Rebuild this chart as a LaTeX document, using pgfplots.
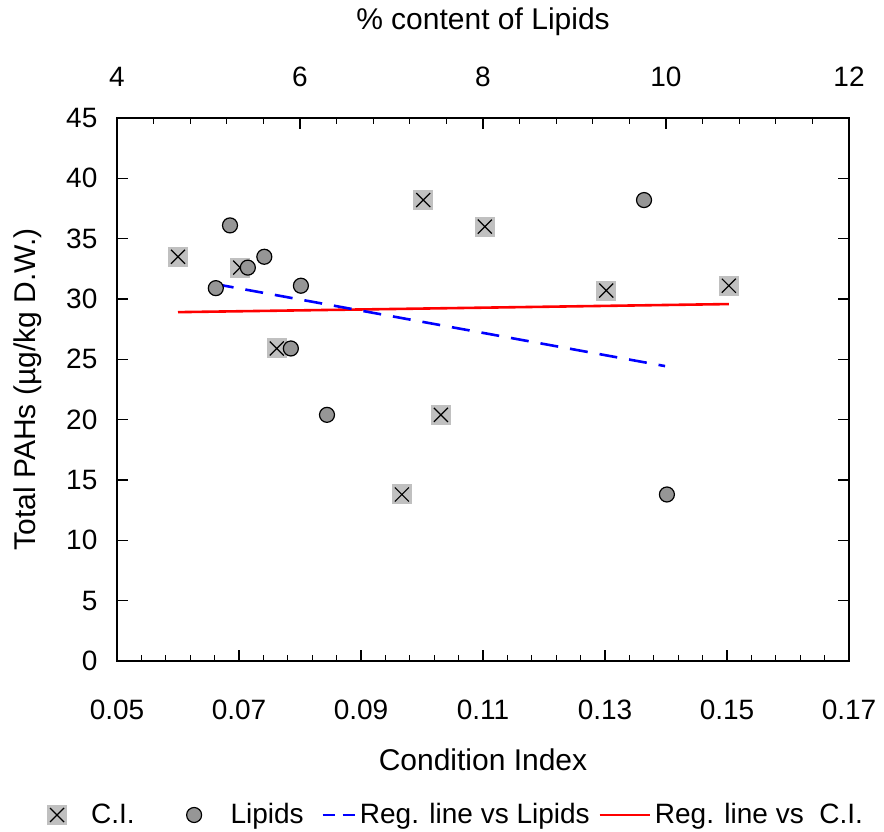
\documentclass[border=0pt]{standalone}
\usepackage{fontspec}
\setmainfont{Liberation Sans}
\usepackage{pgfplots}
\pgfplotsset{compat=1.18}

\definecolor{cifill}{RGB}{192,192,192}
\definecolor{lipfill}{RGB}{150,150,150}

% grey square with a black cross, as in the C.I. series
\pgfdeclareplotmark{sqx}{%
  \pgfpathrectangle{\pgfqpoint{-\pgfplotmarksize}{-\pgfplotmarksize}}{\pgfqpoint{2\pgfplotmarksize}{2\pgfplotmarksize}}%
  \pgfsetfillcolor{cifill}\pgfusepath{fill}%
  \pgfpathmoveto{\pgfqpoint{-.7\pgfplotmarksize}{-.7\pgfplotmarksize}}%
  \pgfpathlineto{\pgfqpoint{.7\pgfplotmarksize}{.7\pgfplotmarksize}}%
  \pgfpathmoveto{\pgfqpoint{-.7\pgfplotmarksize}{.7\pgfplotmarksize}}%
  \pgfpathlineto{\pgfqpoint{.7\pgfplotmarksize}{-.7\pgfplotmarksize}}%
  \pgfsetstrokecolor{black}\pgfusepath{stroke}}

\pgfplotsset{
  legline/.style={legend image code/.code={\draw[##1] (0bp,0bp) -- (#1,0bp);}},
  legdash/.style={legend image code/.code={%
      \draw[##1, dash pattern=on 6bp off 4bp] (0bp,0bp) -- (#1,0bp);}},
  % mark legend: invisible strip of width 20bp, mark placed #1 from its left edge
  legmark/.style={legend image code/.code={%
      \path[draw=none, fill=none] (0bp,-1bp) rectangle (20bp,1bp);
      \draw[##1] plot coordinates {(#1,0bp)};}},
  chartbase/.style={
    width=366bp, height=271.5bp, scale only axis,
    ymin=0, ymax=45,
    tick align=inside,
    major tick length=5.5bp, minor tick length=3bp,
    every tick/.style={black, line width=0.6bp},
    axis line style={line width=1bp},
    tick label style={font=\fontsize{14bp}{16bp}\selectfont},
    label style={font=\fontsize{15bp}{17bp}\selectfont},
    /pgf/number format/assume math mode=true,
  }
}

\begin{document}
\begin{tikzpicture}

\begin{axis}[chartbase,
  xmin=0.05, xmax=0.17,
  xtick={0.05,0.07,0.09,0.11,0.13,0.15,0.17},
  minor x tick num=4,
  scaled x ticks=false,
  xticklabel style={/pgf/number format/fixed, /pgf/number format/precision=2,
    /pgf/number format/fixed zerofill, yshift=-15.8bp},
  xtick pos=bottom,
  ytick={0,5,...,45},
  ytick pos=both, yticklabel pos=left,
  yticklabel style={xshift=-6.3bp},
  xlabel={Condition Index},
  xlabel style={at={(axis description cs:0.5,-0.1823)}, anchor=center},
  ylabel={Total PAHs (µg/kg D.W.)},
  ylabel style={at={(axis description cs:-0.1216,0.5)}, anchor=center},
]
\addplot[only marks, mark=sqx, mark size=5bp, mark options={line width=0.6bp}]
table {
0.0600 33.5
0.0702 32.6
0.0762 25.9
0.0967 13.8
0.1002 38.2
0.1031 20.4
0.1103 36.0
0.1302 30.7
0.1503 31.1
};
\addplot[red, line width=1.3bp] coordinates {(0.0600,28.91) (0.1503,29.58)};
\end{axis}

\begin{axis}[chartbase,
  xmin=4, xmax=12,
  xtick={4,6,8,10,12},
  minor x tick num=4,
  axis x line*=top, axis y line=none,
  x axis line style={-},
  xticklabel style={yshift=12bp},
  xlabel={\% content of Lipids},
  xlabel style={at={(axis description cs:0.5,1.1768)}, anchor=center},
  legend style={draw=none, fill=none, at={(axis description cs:0.4645,-0.2836)},
    anchor=center, legend columns=4,
    font=\fontsize{14bp}{16bp}\selectfont,
    /tikz/column 2/.style={column sep=24bp},
    /tikz/column 4/.style={column sep=6.8bp},
    /tikz/column 6/.style={column sep=2.3bp}},
  legend cell align=left,
]
\addlegendimage{only marks, mark=sqx, mark size=5bp, mark options={line width=0.6bp},
  legmark=5bp}
\addlegendentry{C.I.}
\addplot[only marks, mark=*, mark size=3.75bp,
  mark options={fill=lipfill, draw=black, line width=0.6bp}, legmark=3.75bp]
table {
5.08 30.9
5.235 36.1
5.43 32.6
5.61 33.5
5.90 25.9
6.01 31.1
6.295 20.4
9.76 38.2
10.01 13.8
};
\addlegendentry{Lipids}
\addplot[blue, line width=1.3bp, dash pattern=on 9bp off 6bp, legdash=16bp]
  coordinates {(5.08,31.23) (9.99,24.44)};
\addlegendentry{Reg. line vs Lipids}
\addlegendimage{red, line width=1.3bp, legline=25bp}
\addlegendentry{Reg. line vs\ \ C.I.}
\end{axis}

\pgfresetboundingbox
\path[use as bounding box] (-58.5bp,-85.5bp) rectangle (383.5bp,330.5bp);
\end{tikzpicture}
\end{document}
